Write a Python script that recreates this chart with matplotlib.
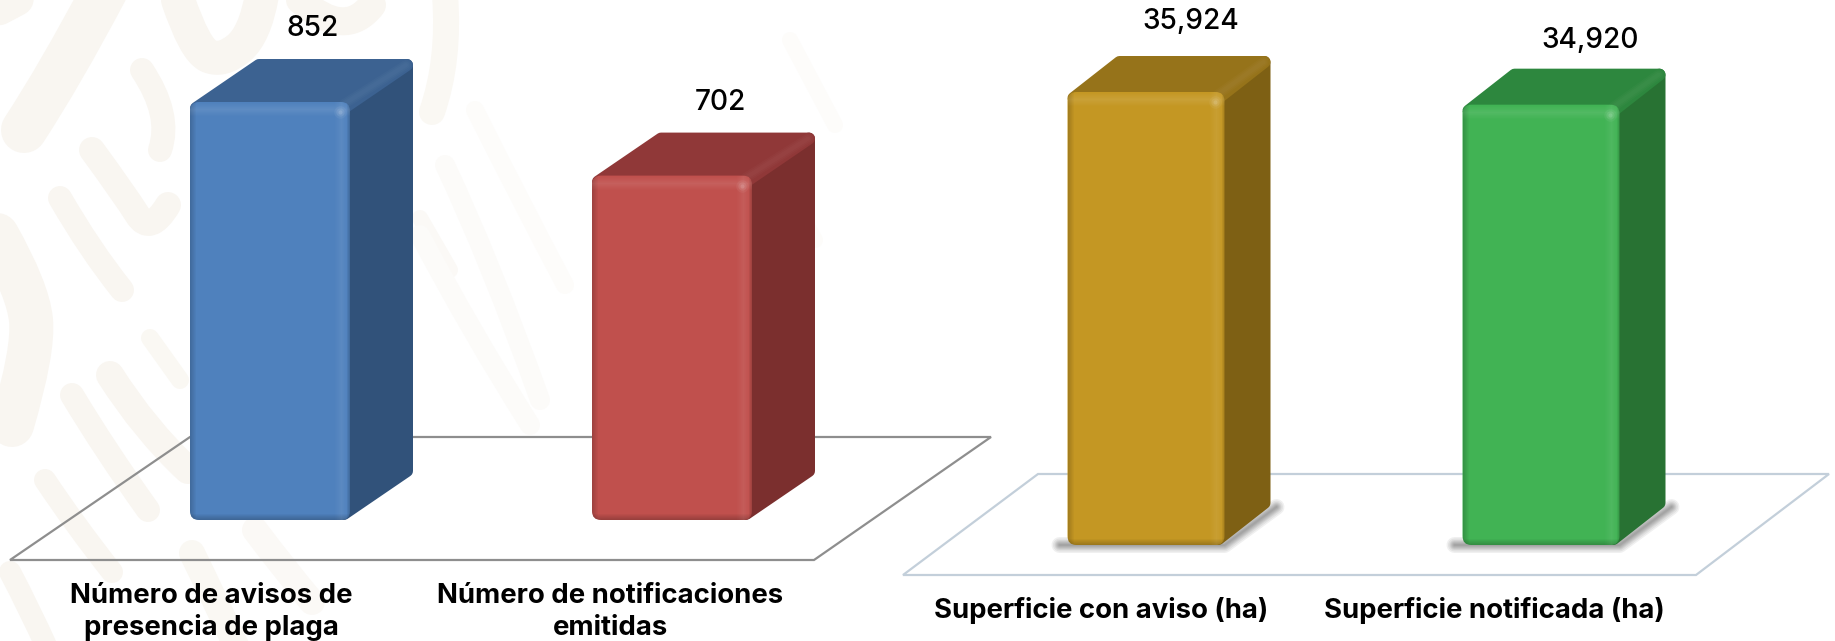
import matplotlib
matplotlib.use('Agg')
import matplotlib.pyplot as plt
from matplotlib.patches import FancyBboxPatch, PathPatch, Polygon, Rectangle
from matplotlib.path import Path

W, H = 1835, 641

# chart values
labels_left = ['Número de avisos de\npresencia de plaga', 'Número de notificaciones\nemitidas']
values_left = [852, 702]
labels_right = ['Superficie con aviso (ha)', 'Superficie notificada (ha)']
values_right = [35924, 34920]

colors_left = [('#4F81BD', '#3C6291', '#31527A'), ('#C0504D', '#903838', '#7B2F2E')]
colors_right = [('#C49723', '#96731A', '#7E6014'), ('#41B354', '#2D873E', '#287233')]

# watermark strokes in the background: (width px, colour, points in px)
strokes = [
    (46, '#F9F6F1', [(24, 130), (60, 75), (105, -10)]),
    (34, '#F9F6F1', [(-8, 12), (30, -8)]),
    (34, '#F9F6F1', [(178, 0), (195, 50), (222, 62), (255, 35), (262, -5)]),
    (24, '#F9F6F1', [(142, 70), (172, 115), (160, 150)]),
    (26, '#F9F6F1', [(92, 150), (125, 195), (150, 235), (168, 205)]),
    (24, '#F9F6F1', [(60, 198), (90, 250), (122, 290)]),
    (44, '#F9F6F1', [(-3, 235), (28, 290), (34, 350), (12, 425)]),
    (18, '#FAF8F3', [(150, 338), (180, 380)]),
    (28, '#F9F6F1', [(110, 375), (145, 430), (188, 470)]),
    (24, '#F9F6F1', [(72, 395), (105, 450), (148, 510)]),
    (22, '#F9F6F1', [(45, 480), (75, 525), (112, 572)]),
    (22, '#F9F6F1', [(10, 572), (30, 610), (48, 650)]),
    (26, '#FAF8F3', [(192, 553), (215, 600), (238, 650)]),
    (26, '#FBF9F6', [(255, 530), (285, 570), (312, 602)]),
    (28, '#F9F6F1', [(300, 0), (345, 40), (372, 5)]),
    (26, '#FAF8F3', [(445, -5), (450, 60), (432, 112)]),
    (16, '#FBF9F6', [(420, 218), (450, 270)]),
    (20, '#FCFBF9', [(445, 165), (490, 260), (540, 400)]),
    (20, '#FCFBF9', [(420, 235), (470, 330), (530, 425)]),
    (18, '#FDFCFA', [(475, 110), (520, 200), (565, 285)]),
    (16, '#FDFCFA', [(775, 170), (815, 240)]),
    (16, '#FDFCFA', [(790, 40), (835, 125)]),
]

floor_left = [(10, 560), (814, 560), (991, 437), (190, 437)]
floor_right = [(903, 575), (1696, 575), (1829, 474), (1038, 474)]


def smooth_path(pts):
    # quadratic pieces through the midpoints, so the stroke has no kinks
    verts = [pts[0]]
    codes = [Path.MOVETO]
    for a, b in zip(pts[1:-1], pts[2:]):
        mid = ((a[0] + b[0]) / 2, (a[1] + b[1]) / 2)
        if b == pts[-1]:
            mid = b
        verts += [a, mid]
        codes += [Path.CURVE3, Path.CURVE3]
    if len(pts) == 2:
        verts.append(pts[1])
        codes.append(Path.LINETO)
    return Path(verts, codes)


def draw_panel(ax, labels, values, colors, centre0, spacing, bar_px, base_px, px_per_value,
               depth, value_off, label_off, shadow):
    # one axes over the whole figure, scaled so the bars land where they should
    ax.set_xlim(-centre0 / spacing, (W - centre0) / spacing)
    ax.set_ylim(-(H - base_px) / px_per_value, base_px / px_per_value)
    ax.axis('off')
    ax.patch.set_alpha(0)

    px = 1 / spacing
    py = 1 / px_per_value
    aspect = py / px
    dx, dy = depth[0] * px, depth[1] * py
    w = bar_px * px
    r = 9

    for i, v in enumerate(values):
        front, top, side = colors[i]
        x0, x1 = i - w / 2, i + w / 2

        if shadow:
            pts_x = [x0 - 8 * px, x1, x1 + dx + 6 * px]
            pts_y = [0, 0, dy + 2 * py]
            for lw in [16, 13, 10, 8, 6, 4, 2]:
                ax.plot(pts_x, pts_y, color='black', alpha=0.06, lw=lw * 0.72,
                        solid_capstyle='round', solid_joinstyle='round', zorder=2)

        # side and top faces, the thick round edge gives the soft corners
        ins = 6
        side_pts = [(x1 - ins * px, ins * py), (x1 + dx - ins * px, dy + ins * py),
                    (x1 + dx - ins * px, v + dy - ins * py), (x1 - ins * px, v - ins * py)]
        ax.add_patch(Polygon(side_pts, closed=True, fc=side, ec=side, lw=ins * 2 * 0.72,
                             joinstyle='round', zorder=3))
        top_pts = [(x0 + ins * px, v - ins * py), (x1 - ins * px, v - ins * py),
                   (x1 + dx - ins * px, v + dy - ins * py), (x0 + dx + ins * px, v + dy - ins * py)]
        ax.add_patch(Polygon(top_pts, closed=True, fc=top, ec=top, lw=ins * 2 * 0.72,
                             joinstyle='round', zorder=3))
        for lw, a in [(10, 0.02), (7, 0.02), (4, 0.02)]:
            ax.plot([x1 - 6 * px, x1 + dx - 7 * px], [v - 2 * py, v + dy - 6 * py], color='white',
                    alpha=a, lw=lw * 0.72, solid_capstyle='round', zorder=3)

        # front face
        body = FancyBboxPatch((x0, 0), w, v, boxstyle=f'round,pad=0,rounding_size={r * px}',
                              mutation_aspect=aspect, fc=front, ec='none', zorder=4)
        ax.add_patch(body)

        # bevel strips clipped to the front face
        strips = []
        for k in range(6):
            strips.append((x0 + k * px, 0, px, v, 'black', 0.17 * (1 - k / 6)))
            strips.append((x0, k * py, w, py, 'black', 0.2 * (1 - k / 6)))
        for k in range(3):
            strips.append((x1 - (k + 1) * px, 0, px, v, 'black', 0.16 * (1 - k / 3)))
        for k in range(14):
            a = 0.07 * (1 - abs(k - 7) / 7)
            strips.append((x1 - (k + 2) * px, 0, px, v, 'white', a))
            strips.append((x0, v - (k + 1) * py, w, py, 'white', a * 1.3))
        for sx, sy, sw, sh, c, a in strips:
            if a <= 0:
                continue
            rect = Rectangle((sx, sy), sw, sh, fc=c, ec='none', alpha=a, zorder=5)
            ax.add_patch(rect)
            rect.set_clip_path(body)
        for ms, a in [(9, 0.05), (6, 0.08), (3, 0.12)]:
            ax.plot([x1 - 10 * px], [v - 10 * py], 'o', ms=ms, mfc='white', mec='none', alpha=a, zorder=6)

        ax.annotate(f'{v:,}', (i, v), xytext=(value_off[i][0], value_off[i][1]),
                    textcoords='offset pixels', ha='center', va='center', fontsize=20.2,
                    fontweight='medium', color='black', zorder=7)
        ax.annotate(labels[i], (i, 0), xytext=(label_off[i][0], label_off[i][1]),
                    textcoords='offset pixels', ha='center', va='center', fontsize=19.8,
                    fontweight='bold', color='black', linespacing=1.28, zorder=7)


plt.rcParams['font.family'] = ['Inter', 'Liberation Sans', 'DejaVu Sans']
fig = plt.figure(figsize=(W / 100, H / 100), dpi=100, facecolor='white')

bg = fig.add_axes([0, 0, 1, 1])
bg.set_xlim(0, W)
bg.set_ylim(H, 0)
bg.axis('off')
for lw, c, pts in strokes:
    bg.add_patch(PathPatch(smooth_path(pts), fc='none', ec=c, lw=lw * 0.72,
                           capstyle='round', joinstyle='round'))
bg.add_patch(Polygon(floor_left, closed=True, fc='none', ec='#8E8E8E', lw=1.6))
bg.add_patch(Polygon(floor_right, closed=True, fc='none', ec='#C3CFDA', lw=1.6))

left = fig.add_axes([0, 0, 1, 1])
draw_panel(left, labels_left, values_left, colors_left, 270, 402, 160, 520, 418 / 852,
           (63, 43), [(43, 74), (48, 73)], [(-59, -92), (-62, -92)], False)

right = fig.add_axes([0, 0, 1, 1])
draw_panel(right, labels_right, values_right, colors_right, 1146, 395, 157, 545, 453 / 35924,
           (46, 36), [(45, 70), (49, 64)], [(-45, -65), (-47, -65)], True)

fig.savefig('out.png', dpi=100)
